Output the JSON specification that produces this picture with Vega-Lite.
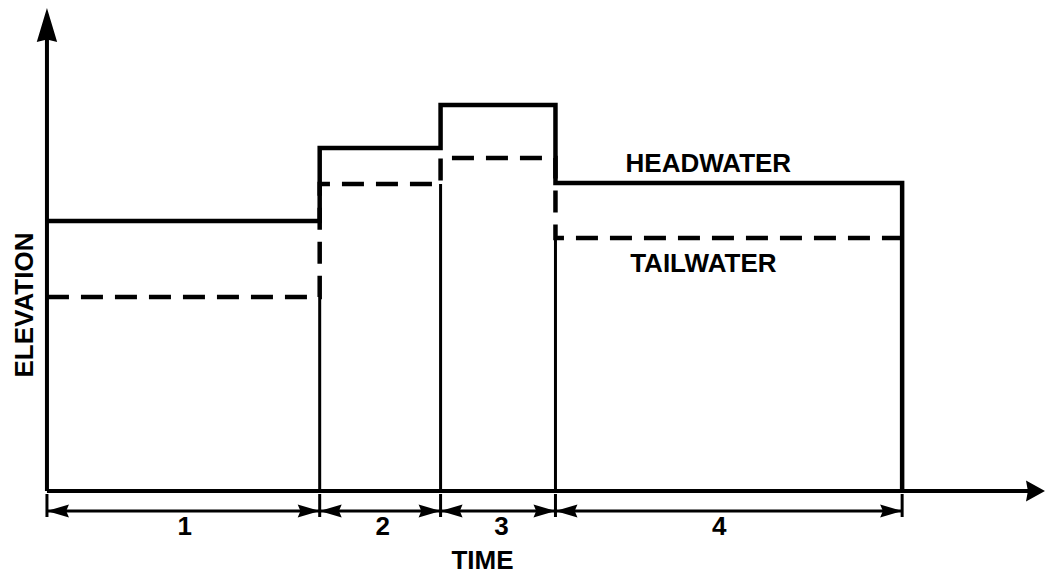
{
  "$schema": "https://vega.github.io/schema/vega-lite/v6.json",
  "width": 1045,
  "height": 580,
  "padding": 0,
  "autosize": {"type": "fit", "contains": "padding"},
  "background": "white",
  "config": {"view": {"stroke": null}},
  "datasets": {
    "steps": [
      {"series": "Headwater", "time": 0, "elevation": 27.0},
      {"series": "Headwater", "time": 27.3, "elevation": 34.3},
      {"series": "Headwater", "time": 39.4, "elevation": 38.6},
      {"series": "Headwater", "time": 50.9, "elevation": 30.8},
      {"series": "Headwater", "time": 85.6, "elevation": 0},
      {"series": "Tailwater", "time": 0, "elevation": 19.4},
      {"series": "Tailwater", "time": 27.3, "elevation": 30.7},
      {"series": "Tailwater", "time": 39.4, "elevation": 33.3},
      {"series": "Tailwater", "time": 50.9, "elevation": 25.3},
      {"series": "Tailwater", "time": 85.6, "elevation": 25.3}
    ],
    "boundaries": [
      {"time": 27.3, "bottom": 0, "top": 19.4},
      {"time": 39.4, "bottom": 0, "top": 30.7},
      {"time": 50.9, "bottom": 0, "top": 25.3}
    ],
    "axes": [
      {"axis": "time", "x": 0, "x2": 98.6, "y": 0, "y2": 0},
      {"axis": "elevation", "x": 0, "x2": 0, "y": 0, "y2": 45.5}
    ],
    "arrowheads": [
      {"axis": "elevation", "time": 0, "elevation": 48.3},
      {"axis": "time", "time": 99.9, "elevation": 0}
    ],
    "periods": [
      {"period": "1", "start": 0, "end": 27.3, "mid": 13.8, "level": -2.0, "labelLevel": -3.6},
      {"period": "2", "start": 27.3, "end": 39.4, "mid": 33.6, "level": -2.0, "labelLevel": -3.6},
      {"period": "3", "start": 39.4, "end": 50.9, "mid": 45.5, "level": -2.0, "labelLevel": -3.6},
      {"period": "4", "start": 50.9, "end": 85.6, "mid": 67.3, "level": -2.0, "labelLevel": -3.6}
    ],
    "ticks": [
      {"time": 0, "from": -0.3, "to": -2.6},
      {"time": 27.3, "from": -0.3, "to": -2.6},
      {"time": 39.4, "from": -0.3, "to": -2.6},
      {"time": 50.9, "from": -0.3, "to": -2.6},
      {"time": 85.6, "from": -0.3, "to": -2.6}
    ],
    "labels": [
      {"text": "HEADWATER", "time": 66.2, "elevation": 32.7, "kind": "flat"},
      {"text": "TAILWATER", "time": 65.7, "elevation": 22.7, "kind": "flat"},
      {"text": "TIME", "time": 43.6, "elevation": -7.0, "kind": "flat"},
      {"text": "ELEVATION", "time": -2.2, "elevation": 18.6, "kind": "vertical"}
    ]
  },
  "layer": [
    {
      "data": {"name": "boundaries"},
      "mark": {"type": "rule", "color": "black", "strokeWidth": 3},
      "encoding": {
        "x": {"field": "time", "type": "quantitative", "scale": {"domain": [-4.7, 99.8], "nice": false, "zero": false}, "axis": null},
        "y": {"field": "bottom", "type": "quantitative", "scale": {"domain": [-8.9, 49.1], "nice": false, "zero": false}, "axis": null},
        "y2": {"field": "top"}
      }
    },
    {
      "data": {"name": "steps"},
      "mark": {"type": "line", "interpolate": "step-after", "color": "black", "strokeWidth": 4.5, "strokeJoin": "miter", "strokeCap": "butt", "clip": false},
      "encoding": {
        "x": {"field": "time", "type": "quantitative"},
        "y": {"field": "elevation", "type": "quantitative"},
        "strokeDash": {"field": "series", "type": "nominal", "scale": {"domain": ["Headwater", "Tailwater"], "range": [[1, 0], [22, 12]]}, "legend": null}
      }
    },
    {
      "data": {"name": "axes"},
      "mark": {"type": "rule", "color": "black", "strokeWidth": 4},
      "encoding": {
        "x": {"field": "x", "type": "quantitative"},
        "x2": {"field": "x2"},
        "y": {"field": "y", "type": "quantitative"},
        "y2": {"field": "y2"}
      }
    },
    {
      "data": {"name": "arrowheads"},
      "transform": [{"filter": "datum.axis === 'elevation'"}],
      "mark": {"type": "point", "shape": "M0,0L-0.6,2L0,1.85L0.6,2Z", "size": 1156, "filled": true, "color": "black", "opacity": 1, "strokeWidth": 0},
      "encoding": {
        "x": {"field": "time", "type": "quantitative"},
        "y": {"field": "elevation", "type": "quantitative"}
      }
    },
    {
      "data": {"name": "arrowheads"},
      "transform": [{"filter": "datum.axis === 'time'"}],
      "mark": {"type": "point", "shape": "M0,0L-2,-1.1L-1.8,0L-2,1.1Z", "size": 361, "filled": true, "color": "black", "opacity": 1, "strokeWidth": 0},
      "encoding": {
        "x": {"field": "time", "type": "quantitative"},
        "y": {"field": "elevation", "type": "quantitative"}
      }
    },
    {
      "data": {"name": "periods"},
      "mark": {"type": "rule", "color": "black", "strokeWidth": 3},
      "encoding": {
        "x": {"field": "start", "type": "quantitative"},
        "x2": {"field": "end"},
        "y": {"field": "level", "type": "quantitative"}
      }
    },
    {
      "data": {"name": "ticks"},
      "mark": {"type": "rule", "color": "black", "strokeWidth": 3},
      "encoding": {
        "x": {"field": "time", "type": "quantitative"},
        "y": {"field": "from", "type": "quantitative"},
        "y2": {"field": "to"}
      }
    },
    {
      "data": {"name": "periods"},
      "mark": {"type": "point", "shape": "M0,0L2,-0.6L1.75,0L2,0.6Z", "size": 484, "filled": true, "color": "black", "opacity": 1, "strokeWidth": 0},
      "encoding": {
        "x": {"field": "start", "type": "quantitative"},
        "y": {"field": "level", "type": "quantitative"}
      }
    },
    {
      "data": {"name": "periods"},
      "mark": {"type": "point", "shape": "M0,0L-2,-0.6L-1.75,0L-2,0.6Z", "size": 484, "filled": true, "color": "black", "opacity": 1, "strokeWidth": 0},
      "encoding": {
        "x": {"field": "end", "type": "quantitative"},
        "y": {"field": "level", "type": "quantitative"}
      }
    },
    {
      "data": {"name": "periods"},
      "mark": {"type": "text", "font": "Liberation Sans", "fontSize": 26, "fontWeight": "bold", "color": "black", "align": "center", "baseline": "middle"},
      "encoding": {
        "x": {"field": "mid", "type": "quantitative"},
        "y": {"field": "labelLevel", "type": "quantitative"},
        "text": {"field": "period"}
      }
    },
    {
      "data": {"name": "labels"},
      "transform": [{"filter": "datum.kind === 'flat'"}],
      "mark": {"type": "text", "font": "Liberation Sans", "fontSize": 26, "fontWeight": "bold", "color": "black", "align": "center", "baseline": "middle"},
      "encoding": {
        "x": {"field": "time", "type": "quantitative"},
        "y": {"field": "elevation", "type": "quantitative"},
        "text": {"field": "text"}
      }
    },
    {
      "data": {"name": "labels"},
      "transform": [{"filter": "datum.kind === 'vertical'"}],
      "mark": {"type": "text", "font": "Liberation Sans", "fontSize": 26, "fontWeight": "bold", "color": "black", "align": "center", "baseline": "middle", "angle": 270},
      "encoding": {
        "x": {"field": "time", "type": "quantitative"},
        "y": {"field": "elevation", "type": "quantitative"},
        "text": {"field": "text"}
      }
    }
  ]
}
